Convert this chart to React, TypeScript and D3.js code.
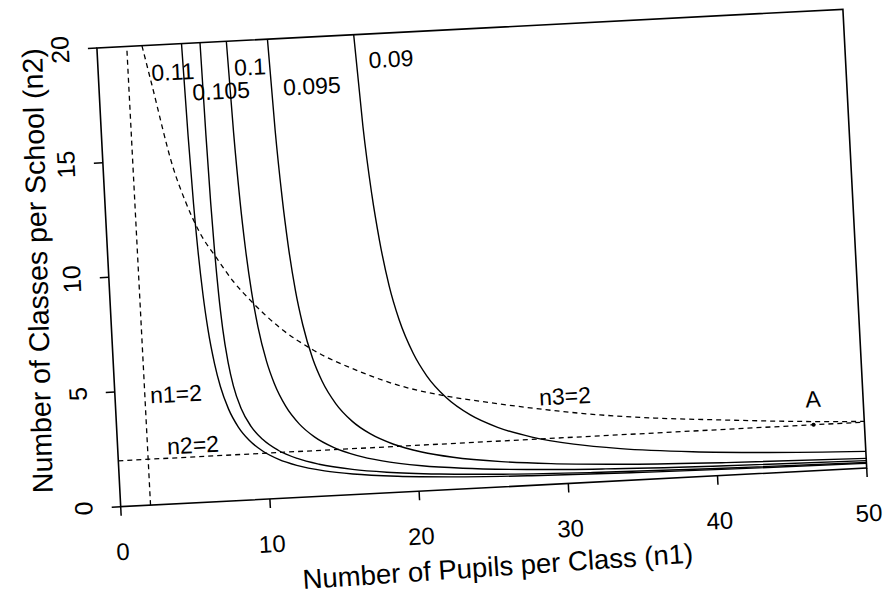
import React from "react";
import * as d3 from "d3";

// ---- data ----
const xTicks = [0, 10, 20, 30, 40, 50];
const yTicks = [0, 5, 10, 15, 20];

const contour011: [number, number][] = [
  [5.67, 20], [5.79, 16], [5.92, 13], [6.05, 11], [6.24, 9], [6.45, 7.5], [6.77, 6], [7.08, 5],
  [7.55, 4], [8.14, 3.2], [8.82, 2.6], [9.68, 2.1], [10.73, 1.7], [11.91, 1.4], [13.75, 1.1],
  [15.64, 0.9], [18.63, 0.7], [22.29, 0.55], [27.58, 0.42], [34.58, 0.32], [42.8, 0.25], [50, 0.205],
];
const contour0105: [number, number][] = [
  [6.91, 20], [6.985, 16], [7.07, 13], [7.157, 11], [7.286, 9], [7.436, 7.5], [7.687, 6],
  [7.951, 5], [8.391, 4], [8.991, 3.2], [9.738, 2.6], [10.72, 2.1], [11.97, 1.7], [13.41, 1.4],
  [15.63, 1.1], [17.91, 0.9], [21.44, 0.7], [25.68, 0.55], [31.7, 0.42], [39.51, 0.32], [50, 0.242],
];
const contour010: [number, number][] = [
  [8.675, 20], [8.844, 16], [9.038, 13], [9.227, 11], [9.5, 9], [9.8, 7.5], [10.25, 6], [10.7, 5],
  [11.375, 4], [12.219, 3.2], [13.192, 2.6], [14.429, 2.1], [15.941, 1.7], [17.643, 1.4],
  [20.273, 1.1], [23.0, 0.9], [27.286, 0.7], [32.545, 0.55], [40.143, 0.42], [50, 0.321],
];
const contour0095: [number, number][] = [
  [11.43, 20], [11.63, 16], [11.87, 13], [12.1, 11], [12.43, 9], [12.8, 7.5], [13.35, 6],
  [13.9, 5], [14.73, 4], [15.76, 3.2], [16.95, 2.6], [18.46, 2.1], [20.31, 1.7], [22.39, 1.4],
  [25.6, 1.1], [28.93, 0.9], [34.17, 0.7], [40.6, 0.55], [50, 0.419],
];
const contour009: [number, number][] = [
  [17.21, 20], [17.51, 16], [17.87, 13], [18.22, 11], [18.71, 9], [19.26, 7.5], [20.09, 6],
  [20.91, 5], [22.15, 4], [23.69, 3.2], [25.47, 2.6], [27.73, 2.1], [30.5, 1.7], [33.61, 1.4],
  [38.42, 1.1], [43.41, 0.9], [50, 0.725],
];
const n3Equals2: [number, number][] = [
  [3.02, 20], [3.54, 18.3], [4.67, 14.65], [5.4, 13.1], [6.25, 11.72], [7.28, 10.59], [8.3, 9.55],
  [9.47, 8.62], [11.3, 7.4], [13.41, 6.38], [16.47, 5.33], [19, 4.65], [21.73, 4.14], [25, 3.7],
  [27.92, 3.35], [32.36, 2.91], [36, 2.65], [40, 2.44], [46.6, 2.14], [50, 2.03],
];
const n2Equals2: [number, number][] = [[0, 2], [50, 2]];
const n1Equals2: [number, number][] = [[2, 0], [2, 20]];

const contourLabels = ["0.11", "0.105", "0.1", "0.095", "0.09"];
const contourLabelPos: [number, number][] = [
  [5.0, 18.79], [8.15, 17.85], [10.17, 18.83], [14.24, 17.86], [19.62, 18.86],
];
const constraintLabels = ["n1=2", "n2=2", "n3=2"];
const constraintLabelPos: [number, number][] = [[4.08, 4.78], [5.05, 2.52], [30.08, 3.81]];
const pointA: [number, number] = [46.6, 2.0];
const pointALabelPos: [number, number] = [46.65, 3.12];

const xTitle = "Number of Pupils per Class (n1)";
const yTitle = "Number of Classes per School (n2)";

// ---- layout ----
const W = 747;
const H = 459.3;
const FONT = "'Liberation Sans', Arial, Helvetica, sans-serif";

export default function App() {
  const x = d3.scaleLinear().domain([0, 50]).range([0, W]);
  const y = d3.scaleLinear().domain([0, 20]).range([0, -H]);
  const line = d3
    .line<[number, number]>()
    .x((d) => x(d[0]))
    .y((d) => y(d[1]))
    .curve(d3.curveMonotoneX);
  const straight = d3
    .line<[number, number]>()
    .x((d) => x(d[0]))
    .y((d) => y(d[1]));

  const solids = [contour011, contour0105, contour010, contour0095, contour009];

  return (
    <svg
      width={888}
      height={596}
      style={{ position: "absolute", left: 0, top: 0, background: "#fff" }}
      fontFamily={FONT}
    >
      <rect width={888} height={596} fill="#fff" />
      <g transform="translate(120.7,506.7) rotate(-2.97)">
        {/* constraint dashed lines */}
        <path d={straight(n1Equals2) || ""} fill="none" stroke="#000" strokeWidth={1.3} strokeDasharray="5,4" />
        <path d={straight(n2Equals2) || ""} fill="none" stroke="#000" strokeWidth={1.3} strokeDasharray="5,4" />
        <path d={line(n3Equals2) || ""} fill="none" stroke="#000" strokeWidth={1.3} strokeDasharray="5,4" />
        {/* contour curves */}
        {solids.map((s, i) => (
          <path key={i} d={line(s) || ""} fill="none" stroke="#000" strokeWidth={1.4} />
        ))}
        {/* frame */}
        <rect x={0} y={-H} width={W} height={H} fill="none" stroke="#000" strokeWidth={1.6} />
        {/* ticks */}
        {xTicks.map((t) => (
          <g key={"xt" + t}>
            <line x1={x(t)} x2={x(t)} y1={0} y2={9} stroke="#000" strokeWidth={1.5} />
            <text x={x(t)} y={45} dy="0.35em" textAnchor="middle" fontSize={24}>
              {t}
            </text>
          </g>
        ))}
        {yTicks.map((t) => (
          <g key={"yt" + t}>
            <line x1={0} x2={-9} y1={y(t)} y2={y(t)} stroke="#000" strokeWidth={1.5} />
            <text
              transform={`translate(-37,${y(t)}) rotate(-90)`}
              dy="0.35em"
              textAnchor="middle"
              fontSize={25}
            >
              {t}
            </text>
          </g>
        ))}
        {/* axis titles */}
        <text transform={`translate(${W / 2},79) rotate(-0.9)`} dy="0.35em" textAnchor="middle" fontSize={27.5}>
          {xTitle}
        </text>
        <text transform={`translate(-71,-240) rotate(-88.4)`} dy="0.35em" textAnchor="middle" fontSize={28.5}>
          {yTitle}
        </text>
        {/* labels */}
        {contourLabels.map((l, i) => (
          <text
            key={l}
            x={x(contourLabelPos[i][0])}
            y={y(contourLabelPos[i][1])}
            dy="0.35em"
            textAnchor="middle"
            fontSize={23}
          >
            {l}
          </text>
        ))}
        {constraintLabels.map((l, i) => (
          <text
            key={l}
            x={x(constraintLabelPos[i][0])}
            y={y(constraintLabelPos[i][1])}
            dy="0.35em"
            textAnchor="middle"
            fontSize={23}
          >
            {l}
          </text>
        ))}
        <circle cx={x(pointA[0])} cy={y(pointA[1])} r={2} fill="#000" />
        <text x={x(pointALabelPos[0])} y={y(pointALabelPos[1])} dy="0.35em" textAnchor="middle" fontSize={23}>
          A
        </text>
      </g>
    </svg>
  );
}
